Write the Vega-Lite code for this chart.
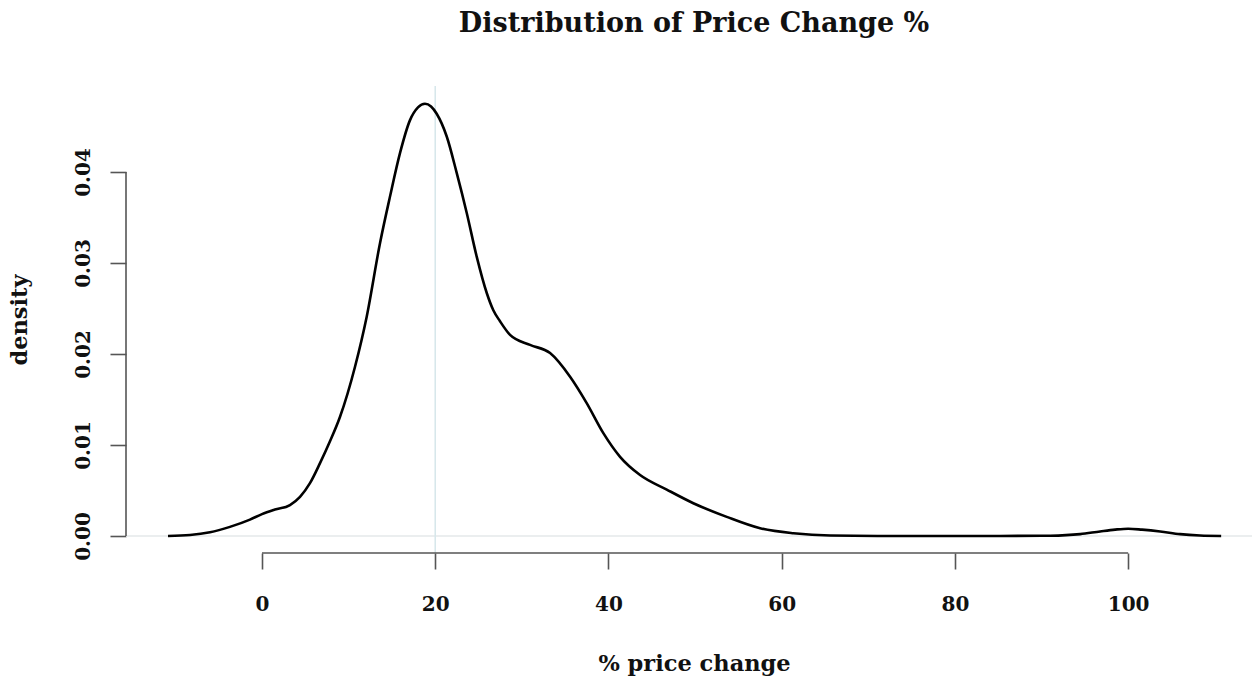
{
  "$schema": "https://vega.github.io/schema/vega-lite/v6.json",
  "autosize": "none",
  "width": 1126,
  "height": 467,
  "padding": {"left": 126, "top": 86, "right": 0, "bottom": 125},
  "background": "white",
  "config": {
    "view": {"stroke": null},
    "font": "DejaVu Serif"
  },
  "title": {
    "text": "Distribution of Price Change %",
    "font": "DejaVu Serif",
    "fontSize": 27,
    "fontWeight": "bold",
    "color": "#111",
    "offset": 47,
    "dx": 5
  },
  "datasets": {
    "curve": [
      {"x": -10.85, "d": 0},
      {"x": -8.31, "d": 0.0001},
      {"x": -6.0, "d": 0.0004},
      {"x": -3.7, "d": 0.001},
      {"x": -1.39, "d": 0.0018},
      {"x": 0, "d": 0.0024},
      {"x": 1.5, "d": 0.0029},
      {"x": 3.23, "d": 0.0034},
      {"x": 4.39, "d": 0.0043},
      {"x": 5.54, "d": 0.0058},
      {"x": 6.7, "d": 0.008},
      {"x": 7.85, "d": 0.0104},
      {"x": 9.01, "d": 0.0131},
      {"x": 10.74, "d": 0.0186},
      {"x": 12.09, "d": 0.0241},
      {"x": 13.63, "d": 0.0322},
      {"x": 14.78, "d": 0.0373},
      {"x": 15.94, "d": 0.0421},
      {"x": 17.09, "d": 0.0457},
      {"x": 18.01, "d": 0.0471},
      {"x": 18.82, "d": 0.0475},
      {"x": 19.52, "d": 0.0472},
      {"x": 20.17, "d": 0.0464},
      {"x": 21.33, "d": 0.0439},
      {"x": 22.48, "d": 0.0399},
      {"x": 23.64, "d": 0.0355},
      {"x": 24.79, "d": 0.0307},
      {"x": 25.95, "d": 0.0267},
      {"x": 26.71, "d": 0.0248},
      {"x": 27.48, "d": 0.0236},
      {"x": 28.64, "d": 0.0221},
      {"x": 30.95, "d": 0.021},
      {"x": 33.26, "d": 0.0201},
      {"x": 35.57, "d": 0.0175},
      {"x": 37.49, "d": 0.0146},
      {"x": 39.41, "d": 0.0113},
      {"x": 41.34, "d": 0.0087},
      {"x": 43.65, "d": 0.0067},
      {"x": 46.73, "d": 0.0051},
      {"x": 49.8, "d": 0.0036},
      {"x": 53.66, "d": 0.0021},
      {"x": 57.51, "d": 0.00085},
      {"x": 61.35, "d": 0.0003},
      {"x": 65.6, "d": 0.00005},
      {"x": 73.7, "d": 0},
      {"x": 85.2, "d": 0},
      {"x": 91.0, "d": 0.00003},
      {"x": 94.46, "d": 0.0002},
      {"x": 96.77, "d": 0.0005},
      {"x": 98.5, "d": 0.0007},
      {"x": 100.0, "d": 0.0008},
      {"x": 101.6, "d": 0.0007},
      {"x": 103.7, "d": 0.0005},
      {"x": 106.0, "d": 0.0002},
      {"x": 108.3, "d": 0.00005},
      {"x": 110.74, "d": 0}
    ],
    "vline": [{"x": 20}],
    "hline": [{"d": 0}],
    "xaxis": [{"x": 0, "x2": 100, "d": -0.00187}],
    "yaxis": [{"x": -15.7, "d": 0, "d2": 0.04}]
  },
  "layer": [
    {
      "data": {"name": "hline"},
      "mark": {"type": "rule", "color": "#e4e9ea", "strokeWidth": 1.5},
      "encoding": {
        "y": {"field": "d", "type": "quantitative", "scale": {"domain": [-0.00187, 0.04945], "nice": false, "zero": false}}
      }
    },
    {
      "data": {"name": "vline"},
      "mark": {"type": "rule", "color": "#d6e7eb", "strokeWidth": 1.5},
      "encoding": {
        "x": {"field": "x", "type": "quantitative"}
      }
    },
    {
      "data": {"name": "xaxis"},
      "mark": {"type": "rule", "color": "#555", "strokeWidth": 1.6},
      "encoding": {
        "x": {"field": "x", "type": "quantitative"},
        "x2": {"field": "x2"},
        "y": {"field": "d", "type": "quantitative"}
      }
    },
    {
      "data": {"name": "yaxis"},
      "mark": {"type": "rule", "color": "#555", "strokeWidth": 1.6},
      "encoding": {
        "x": {"field": "x", "type": "quantitative"},
        "y": {"field": "d", "type": "quantitative"},
        "y2": {"field": "d2"}
      }
    },
    {
      "data": {"name": "curve"},
      "mark": {"type": "line", "color": "#000", "strokeWidth": 2.6, "interpolate": "monotone"},
      "encoding": {
        "x": {
          "field": "x", "type": "quantitative",
          "scale": {"domain": [-15.7, 114.3], "nice": false, "zero": false},
          "axis": {
            "values": [0, 20, 40, 60, 80, 100],
            "domain": false,
            "grid": false,
            "tickSize": 16,
            "tickColor": "#555",
            "tickWidth": 1.6,
            "labelFont": "DejaVu Serif",
            "labelFontWeight": "bold",
            "labelFontSize": 20,
            "labelColor": "#111",
            "labelPadding": 25,
            "title": "% price change",
            "titleFont": "DejaVu Serif",
            "titleFontWeight": "bold",
            "titleFontSize": 22.5,
            "titleColor": "#111",
            "titlePadding": 38,
            "titleX": 568
          }
        },
        "y": {
          "field": "d", "type": "quantitative",
          "scale": {"domain": [-0.00187, 0.04945], "nice": false, "zero": false},
          "axis": {
            "values": [0, 0.01, 0.02, 0.03, 0.04],
            "format": ".2f",
            "domain": false,
            "grid": false,
            "tickSize": 16,
            "tickColor": "#555",
            "tickWidth": 1.6,
            "labelAngle": -90,
            "labelFont": "DejaVu Serif",
            "labelFontWeight": "bold",
            "labelFontSize": 20,
            "labelColor": "#111",
            "labelPadding": 17,
            "title": "density",
            "titleFont": "DejaVu Serif",
            "titleFontWeight": "bold",
            "titleFontSize": 22.5,
            "titleColor": "#111",
            "titlePadding": 42
          }
        }
      }
    }
  ]
}
